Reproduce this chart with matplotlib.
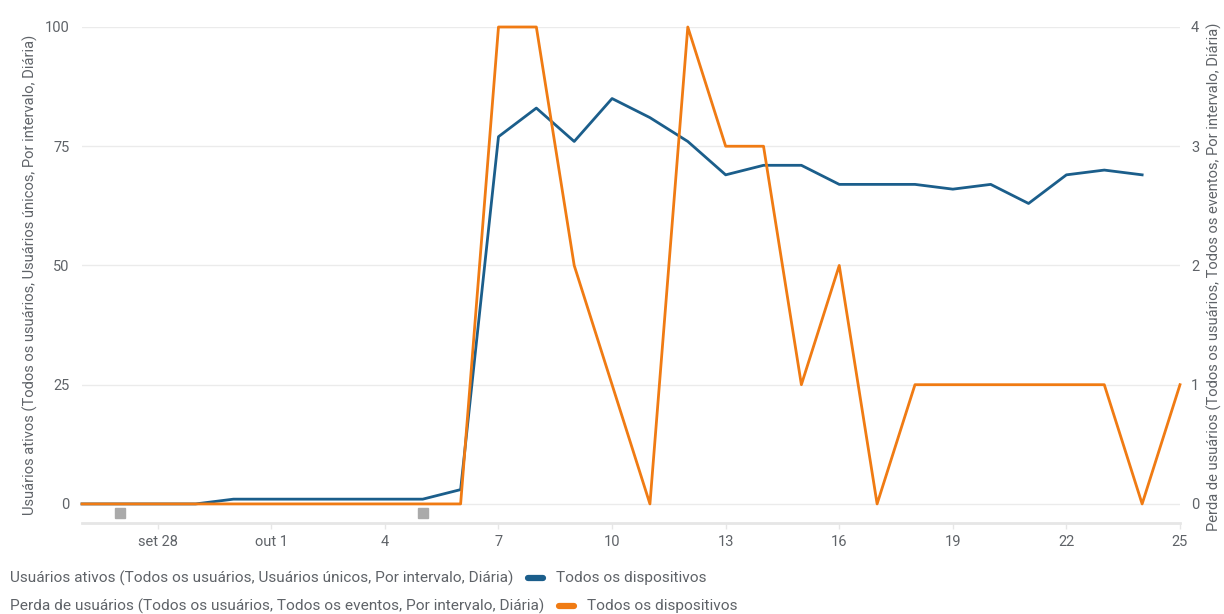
import matplotlib
matplotlib.use("Agg")
import matplotlib.pyplot as plt
import pandas as pd
from matplotlib.lines import Line2D

plt.rcParams['font.family'] = ['Roboto', 'DejaVu Sans']

dates = pd.date_range("2023-09-26", "2023-10-25", freq="D")
active_users = [0, 0, 0, 0, 1, 1, 1, 1, 1, 1, 3, 77, 83, 76, 85, 81, 76, 69, 71, 71,
                67, 67, 67, 66, 67, 63, 69, 70, 69]
user_loss = [0, 0, 0, 0, 0, 0, 0, 0, 0, 0, 0, 4, 4, 2, 1, 0, 4, 3, 3, 1,
             2, 0, 1, 1, 1, 1, 1, 1, 0, 1]
annotation_dates = pd.to_datetime(["2023-09-27", "2023-10-05"])
tick_dates = pd.to_datetime(["2023-09-28", "2023-10-01", "2023-10-04", "2023-10-07",
                             "2023-10-10", "2023-10-13", "2023-10-16", "2023-10-19",
                             "2023-10-22", "2023-10-25"])
tick_labels = ["set 28", "out 1", "4", "7", "10", "13", "16", "19", "22", "25"]
left_ticks = [0, 25, 50, 75, 100]
right_ticks = [0, 1, 2, 3, 4]

left_label = "Usuários ativos (Todos os usuários, Usuários únicos, Por intervalo, Diária)"
right_label = "Perda de usuários (Todos os usuários, Todos os eventos, Por intervalo, Diária)"
series_label = "Todos os dispositivos"

BLUE = "#1b5e8b"
ORANGE = "#f07b13"
TXT = "#5f6368"
GRID = "#ebebeb"

W, H = 1224, 614
fig = plt.figure(figsize=(W / 100, H / 100), dpi=100)
left, right, top, bottom = 82, 1180, 27, 523
ax = fig.add_axes([left / W, 1 - bottom / H, (right - left) / W, (bottom - top) / H])
ax2 = ax.twinx()

ax.set_ylim(-4, 100)
ax2.set_ylim(-0.16, 4)
ax.set_xlim(dates[0], dates[-1])

for s in ["top", "right", "left"]:
    ax.spines[s].set_visible(False)
    ax2.spines[s].set_visible(False)
ax2.spines["bottom"].set_visible(False)
ax.spines["bottom"].set_color("#e6e6e6")
ax.spines["bottom"].set_linewidth(2)

ax.set_yticks(left_ticks)
ax2.set_yticks(right_ticks)
ax.grid(axis="y", color=GRID, linewidth=1)
ax.set_axisbelow(True)
ax.tick_params(axis="y", length=0, pad=9, labelsize=10.5, labelcolor=TXT)
ax2.tick_params(axis="y", length=0, pad=8, labelsize=10.5, labelcolor=TXT)
ax.set_xticks(tick_dates)
ax.set_xticklabels(tick_labels)
ax.tick_params(axis="x", length=4, width=1, color="#e6e6e6", pad=5, labelsize=10.5, labelcolor=TXT)

ax.plot(dates[:len(active_users)], active_users, color=BLUE, linewidth=2, clip_on=False, zorder=3)
ax2.plot(dates, user_loss, color=ORANGE, linewidth=2, clip_on=False, zorder=4)
ax.plot(annotation_dates, [-1.9] * len(annotation_dates), linestyle="none", marker="s",
        markersize=7, color="#aaaaaa", clip_on=False)

fig.text(30 / W, 1 - 275 / H, left_label, fontsize=10.6, color=TXT, rotation=90,
         ha="center", va="center")
fig.text(1214 / W, 1 - 277 / H, right_label, fontsize=10.6, color=TXT, rotation=90,
         ha="center", va="center")

fig.text(10 / W, 1 - 578 / H, left_label, fontsize=11.1, color=TXT, va="center")
fig.text(10 / W, 1 - 606 / H, right_label, fontsize=11.1, color=TXT, va="center")

for y, x0, c in [(578, 528, BLUE), (606, 559, ORANGE)]:
    fig.add_artist(Line2D([x0 / W, (x0 + 15) / W], [1 - y / H, 1 - y / H], color=c,
                          linewidth=4.5, solid_capstyle="round", transform=fig.transFigure))
    fig.text((x0 + 28) / W, 1 - y / H, series_label, fontsize=11.1, color=TXT, va="center")

fig.savefig("out.png", dpi=100)
